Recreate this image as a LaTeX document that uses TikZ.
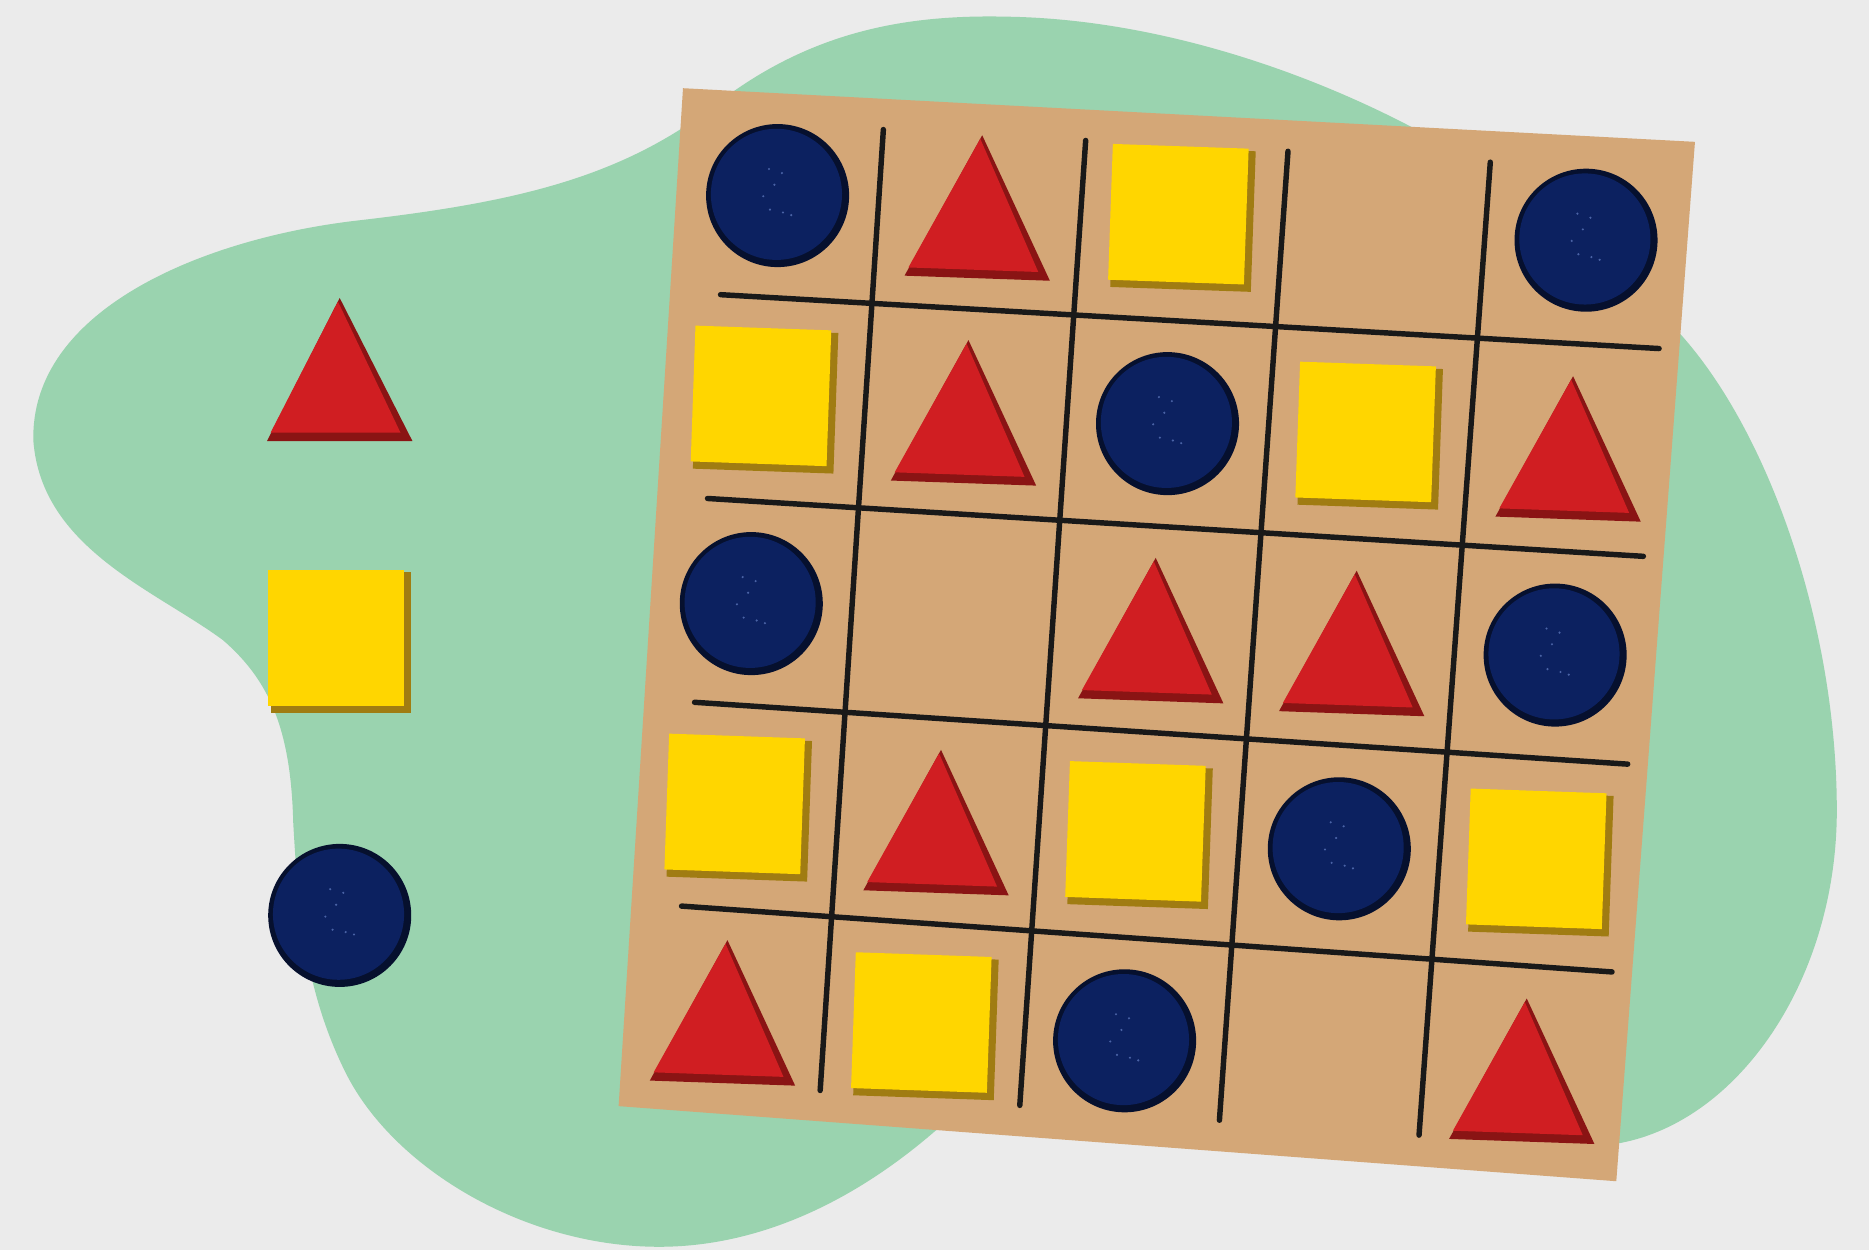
\documentclass[tikz,border=0pt]{standalone}
\usetikzlibrary{calc}

\definecolor{paper}{HTML}{EBEBEB}
\definecolor{blob}{HTML}{9AD3AF}
\definecolor{card}{HTML}{D4A777}
\definecolor{trired}{HTML}{D01E22}
\definecolor{tridark}{HTML}{8A1414}
\definecolor{sqyellow}{HTML}{FFD600}
\definecolor{sqdark}{HTML}{A07C12}
\definecolor{discblue}{HTML}{0C2160}
\definecolor{discrim}{HTML}{06102E}
\definecolor{discdot}{HTML}{4A63A6}

\tikzset{
  gridline/.style={line width=1.3pt, black!90, line cap=round},
  redtri/.pic={
    \fill[tridark] (0,-60) -- (61,60) -- (-61,60) -- cycle;
    \fill[trired] (-1.5,-57) -- (51,53) -- (-58,53) -- cycle;
  },
  yelsq/.pic={
    \fill[sqdark] (-58,-58) rectangle (60,60);
    \fill[sqyellow] (-60,-60) rectangle (54,54);
  },
  bluedisc/.pic={
    \fill[discrim] (0,0) circle (60);
    \fill[discblue] (-1,-1) circle (55);
    \foreach \p in {(-8,-22),(3,-19),(-3,-9),(-12,1),(-6,12),(5,14),(12,16)}
      \fill[discdot] \p circle (1);
  }
}

\begin{document}
\begin{tikzpicture}[x=0.01cm, y=-0.01cm]

% Paper
\useasboundingbox (0,0) rectangle (1568,1049);
\fill[paper] (0,0) rectangle (1568,1049);

% Green blob
\fill[blob] (28,370) .. controls (25,260) and (170,200) .. (300,185)
  .. controls (430,170) and (520,150) .. (600,88)
  .. controls (680,26) and (760,12) .. (845,14)
  .. controls (970,16) and (1100,60) .. (1200,115)
  -- (1400,270)
  .. controls (1480,350) and (1541,520) .. (1541,680)
  .. controls (1541,820) and (1460,940) .. (1359,959)
  -- (1000,950) -- (800,935)
  .. controls (725,1005) and (640,1046) .. (553,1046)
  .. controls (440,1046) and (330,980) .. (290,900)
  .. controls (255,830) and (250,760) .. (246,690)
  .. controls (244,610) and (225,570) .. (187,537)
  .. controls (130,495) and (35,460) .. (28,370) -- cycle;

% Loose pieces
\pic at (285,310) {redtri};
\pic at (285,538) {yelsq};
\pic at (285,768) {bluedisc};

% Board
\coordinate (TL) at (573,74);
\coordinate (TR) at (1422,119);
\coordinate (BR) at (1356,991);
\coordinate (BL) at (519,928);
\fill[card] (TL) -- (TR) -- (BR) -- (BL) -- cycle;

% Grid lines
\foreach \u in {0.2,0.4,0.6,0.8} {
  \coordinate (gt) at ($(TL)!\u!(TR)$);
  \coordinate (gb) at ($(BL)!\u!(BR)$);
  \draw[gridline] ($(gt)!0.03!(gb)$) -- ($(gt)!0.97!(gb)$);
  \coordinate (gl) at ($(TL)!\u!(BL)$);
  \coordinate (gr) at ($(TR)!\u!(BR)$);
  \draw[gridline] ($(gl)!0.05!(gr)$) -- ($(gl)!0.98!(gr)$);
}

% Column centres
\foreach \j in {1,...,5} {
  \coordinate (top\j) at ($(TL)!{(\j-0.5)/5}!(TR)$);
  \coordinate (bot\j) at ($(BL)!{(\j-0.5)/5}!(BR)$);
}

% Row 1
\pic[rotate=-2] at ($(top1)!0.1!(bot1)$) {bluedisc};
\pic[rotate=-2] at ($(top2)!0.1!(bot2)$) {redtri};
\pic[rotate=-2] at ($(top3)!0.1!(bot3)$) {yelsq};
\pic[rotate=-2] at ($(top5)!0.1!(bot5)$) {bluedisc};
% Row 2
\pic[rotate=-2] at ($(top1)!0.3!(bot1)$) {yelsq};
\pic[rotate=-2] at ($(top2)!0.3!(bot2)$) {redtri};
\pic[rotate=-2] at ($(top3)!0.3!(bot3)$) {bluedisc};
\pic[rotate=-2] at ($(top4)!0.3!(bot4)$) {yelsq};
\pic[rotate=-2] at ($(top5)!0.3!(bot5)$) {redtri};
% Row 3
\pic[rotate=-2] at ($(top1)!0.5!(bot1)$) {bluedisc};
\pic[rotate=-2] at ($(top3)!0.5!(bot3)$) {redtri};
\pic[rotate=-2] at ($(top4)!0.5!(bot4)$) {redtri};
\pic[rotate=-2] at ($(top5)!0.5!(bot5)$) {bluedisc};
% Row 4
\pic[rotate=-2] at ($(top1)!0.7!(bot1)$) {yelsq};
\pic[rotate=-2] at ($(top2)!0.7!(bot2)$) {redtri};
\pic[rotate=-2] at ($(top3)!0.7!(bot3)$) {yelsq};
\pic[rotate=-2] at ($(top4)!0.7!(bot4)$) {bluedisc};
\pic[rotate=-2] at ($(top5)!0.7!(bot5)$) {yelsq};
% Row 5
\pic[rotate=-2] at ($(top1)!0.9!(bot1)$) {redtri};
\pic[rotate=-2] at ($(top2)!0.9!(bot2)$) {yelsq};
\pic[rotate=-2] at ($(top3)!0.9!(bot3)$) {bluedisc};
\pic[rotate=-2] at ($(top5)!0.9!(bot5)$) {redtri};

\end{tikzpicture}
\end{document}
